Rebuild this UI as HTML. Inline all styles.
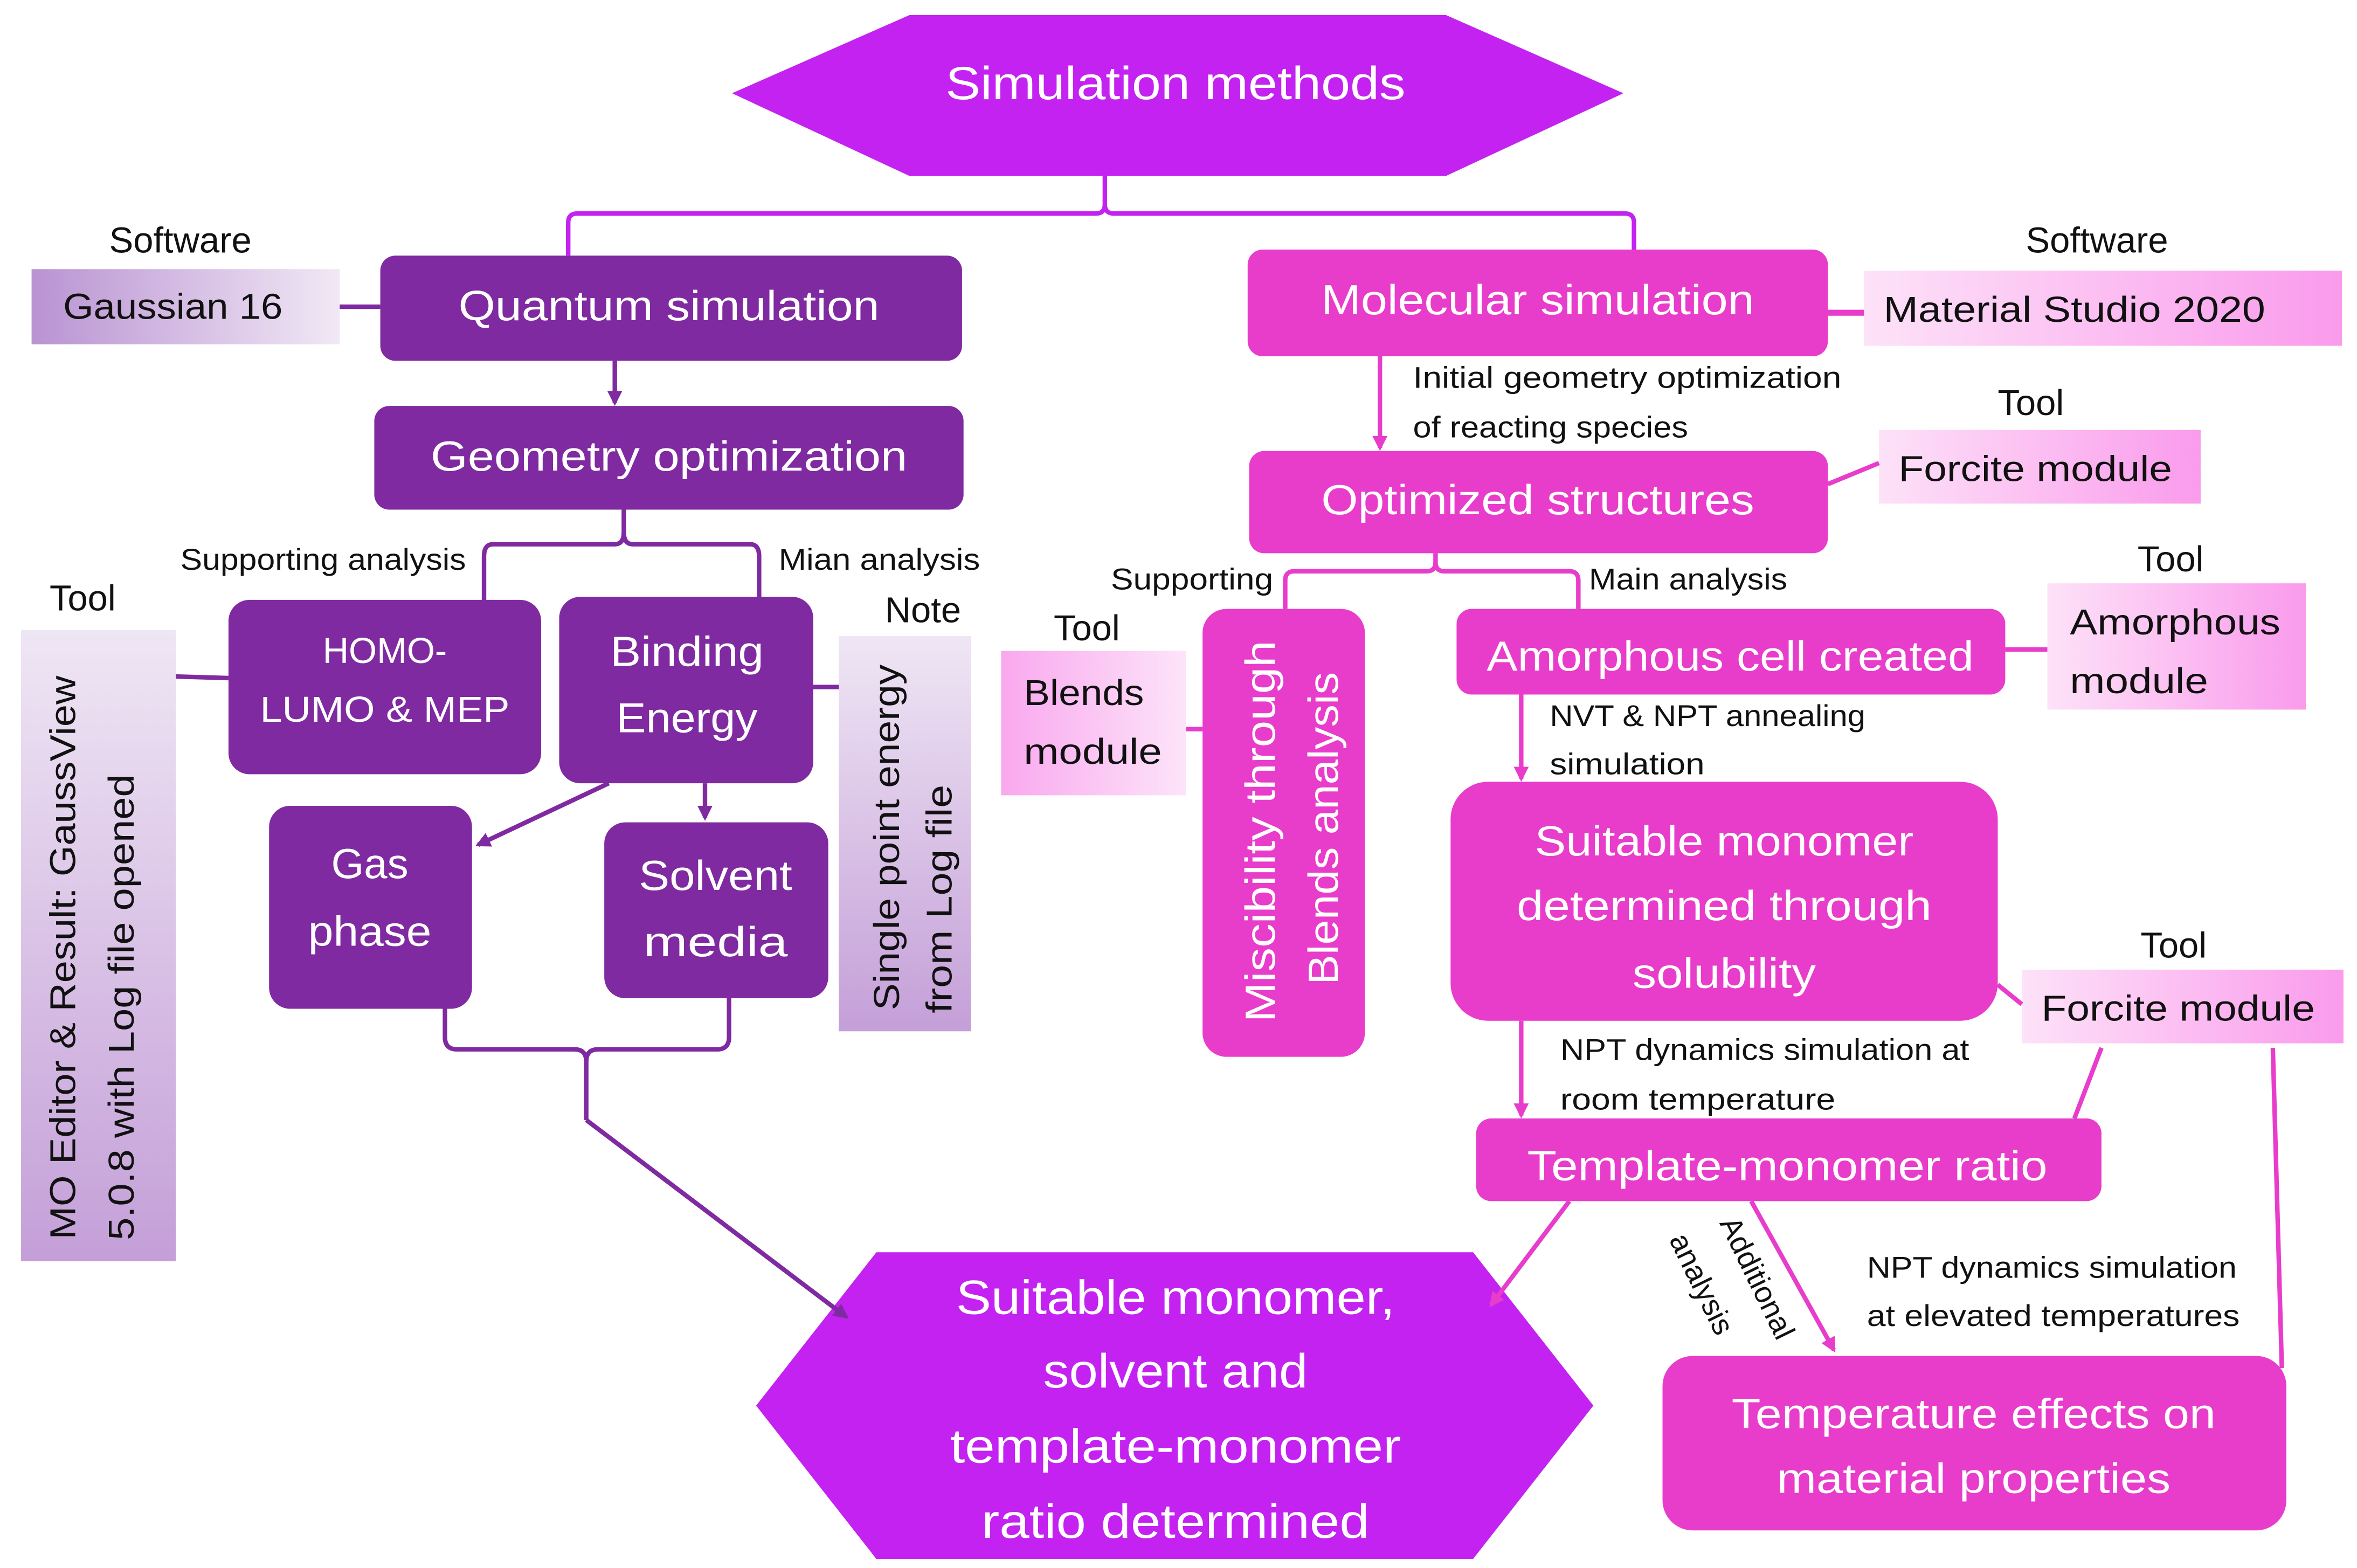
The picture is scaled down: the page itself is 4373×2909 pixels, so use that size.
<!DOCTYPE html>
<html><head><meta charset="utf-8"><style>
html,body{margin:0;padding:0;background:#fff;}
svg{display:block;}
text{font-family:"Liberation Sans",sans-serif;}
.w{fill:#fff;}
.k{fill:#111;}
</style></head><body>
<svg width="4373" height="2909" viewBox="0 0 1568 1043" xmlns="http://www.w3.org/2000/svg">
<defs>
<linearGradient id="gq" x1="0" x2="1" y1="0" y2="0"><stop offset="0" stop-color="#B993D2"/><stop offset="1" stop-color="#F1E8F5"/></linearGradient>
<linearGradient id="gv" x1="0" x2="0" y1="0" y2="1"><stop offset="0" stop-color="#EFE6F4"/><stop offset="1" stop-color="#C49FD8"/></linearGradient>
<linearGradient id="gm" x1="0" x2="1" y1="0" y2="0"><stop offset="0" stop-color="#FDE2F8"/><stop offset="1" stop-color="#FA9BEC"/></linearGradient>
<linearGradient id="gb" x1="0" x2="1" y1="0" y2="0"><stop offset="0" stop-color="#F9A8EE"/><stop offset="1" stop-color="#FDE4F9"/></linearGradient>
<marker id="ap" markerWidth="10" markerHeight="10" refX="8" refY="5" orient="auto" markerUnits="userSpaceOnUse"><path d="M0,0 L10,5 L0,10 z" fill="#7F2AA0"/></marker>
<marker id="am" markerWidth="10" markerHeight="10" refX="8" refY="5" orient="auto" markerUnits="userSpaceOnUse"><path d="M0,0 L10,5 L0,10 z" fill="#E83CCB"/></marker>
</defs>

<!-- bottom hexagon (drawn first so arrowheads stay visible) -->
<polygon points="503,935 583,833 980,833 1060,935 980,1037 583,1037" fill="#C322F0"/>
<text x="782" y="874" class="w" font-size="32" text-anchor="middle" textLength="292" lengthAdjust="spacingAndGlyphs">Suitable monomer,</text>
<text x="782" y="923" class="w" font-size="32" text-anchor="middle" textLength="176" lengthAdjust="spacingAndGlyphs">solvent and</text>
<text x="782" y="973" class="w" font-size="32" text-anchor="middle" textLength="300" lengthAdjust="spacingAndGlyphs">template-monomer</text>
<text x="782" y="1023" class="w" font-size="32" text-anchor="middle" textLength="258" lengthAdjust="spacingAndGlyphs">ratio determined</text>

<!-- top hexagon -->
<polygon points="487,62 605,10 962,10 1080,62 962,117 605,117" fill="#C322F0"/>
<text x="782" y="66" class="w" font-size="31" text-anchor="middle" textLength="306" lengthAdjust="spacingAndGlyphs">Simulation methods</text>

<!-- top brace -->
<path d="M735,117 V136 Q735,142 729,142 H384 Q378,142 378,148 V170" fill="none" stroke="#C322F0" stroke-width="3"/>
<path d="M735,136 Q735,142 741,142 H1081 Q1087,142 1087,148 V166" fill="none" stroke="#C322F0" stroke-width="3"/>

<!-- LEFT SIDE -->
<text x="120" y="168" class="k" font-size="24" text-anchor="middle">Software</text>
<rect x="21" y="179" width="205" height="50" fill="url(#gq)"/>
<text x="115" y="212" class="k" font-size="24" text-anchor="middle" textLength="146" lengthAdjust="spacingAndGlyphs">Gaussian 16</text>
<line x1="226" y1="204" x2="253" y2="204" stroke="#7F2AA0" stroke-width="3"/>

<rect x="253" y="170" width="387" height="70" rx="10" fill="#7F2AA0"/>
<text x="445" y="213" class="w" font-size="28" text-anchor="middle" textLength="280" lengthAdjust="spacingAndGlyphs">Quantum simulation</text>
<line x1="409" y1="240" x2="409" y2="268" stroke="#7F2AA0" stroke-width="3" marker-end="url(#ap)"/>

<rect x="249" y="270" width="392" height="69" rx="10" fill="#7F2AA0"/>
<text x="445" y="313" class="w" font-size="28" text-anchor="middle" textLength="317" lengthAdjust="spacingAndGlyphs">Geometry optimization</text>

<path d="M415,339 V354 Q415,362 409,362 H328 Q322,362 322,370 V400" fill="none" stroke="#7F2AA0" stroke-width="3"/>
<path d="M415,354 Q415,362 421,362 H499 Q505,362 505,370 V398" fill="none" stroke="#7F2AA0" stroke-width="3"/>
<text x="215" y="379" class="k" font-size="20" text-anchor="middle" textLength="190" lengthAdjust="spacingAndGlyphs">Supporting analysis</text>
<text x="585" y="379" class="k" font-size="20" text-anchor="middle" textLength="134" lengthAdjust="spacingAndGlyphs">Mian analysis</text>

<rect x="152" y="399" width="208" height="116" rx="14" fill="#7F2AA0"/>
<text x="256" y="441" class="w" font-size="24" text-anchor="middle">HOMO-</text>
<text x="256" y="480" class="w" font-size="24" text-anchor="middle" textLength="166" lengthAdjust="spacingAndGlyphs">LUMO &amp; MEP</text>

<rect x="372" y="397" width="169" height="124" rx="14" fill="#7F2AA0"/>
<text x="457" y="443" class="w" font-size="28" text-anchor="middle" textLength="102" lengthAdjust="spacingAndGlyphs">Binding</text>
<text x="457" y="487" class="w" font-size="28" text-anchor="middle" textLength="94" lengthAdjust="spacingAndGlyphs">Energy</text>

<text x="55" y="406" class="k" font-size="24" text-anchor="middle">Tool</text>
<rect x="14" y="419" width="103" height="420" fill="url(#gv)"/>
<text transform="translate(50,637) rotate(-90)" class="k" font-size="24" text-anchor="middle" textLength="375" lengthAdjust="spacingAndGlyphs">MO Editor &amp; Result:  GaussView</text>
<text transform="translate(89,670) rotate(-90)" class="k" font-size="24" text-anchor="middle" textLength="310" lengthAdjust="spacingAndGlyphs">5.0.8 with Log file opened</text>
<line x1="117" y1="450" x2="152" y2="451" stroke="#7F2AA0" stroke-width="3"/>

<text x="614" y="414" class="k" font-size="24" text-anchor="middle">Note</text>
<rect x="558" y="423" width="88" height="263" fill="url(#gv)"/>
<text transform="translate(598,557) rotate(-90)" class="k" font-size="24" text-anchor="middle" textLength="230" lengthAdjust="spacingAndGlyphs">Single point energy</text>
<text transform="translate(633,598) rotate(-90)" class="k" font-size="24" text-anchor="middle" textLength="152" lengthAdjust="spacingAndGlyphs">from Log file</text>
<line x1="541" y1="457" x2="558" y2="457" stroke="#7F2AA0" stroke-width="3"/>

<line x1="405" y1="521" x2="318" y2="562" stroke="#7F2AA0" stroke-width="3" marker-end="url(#ap)"/>
<line x1="469" y1="521" x2="469" y2="544" stroke="#7F2AA0" stroke-width="3" marker-end="url(#ap)"/>

<rect x="179" y="536" width="135" height="135" rx="14" fill="#7F2AA0"/>
<text x="246" y="584" class="w" font-size="28" text-anchor="middle">Gas</text>
<text x="246" y="629" class="w" font-size="28" text-anchor="middle" textLength="82" lengthAdjust="spacingAndGlyphs">phase</text>

<rect x="402" y="547" width="149" height="117" rx="14" fill="#7F2AA0"/>
<text x="476" y="592" class="w" font-size="28" text-anchor="middle" textLength="102" lengthAdjust="spacingAndGlyphs">Solvent</text>
<text x="476" y="636" class="w" font-size="28" text-anchor="middle" textLength="96" lengthAdjust="spacingAndGlyphs">media</text>

<path d="M296,671 V690 Q296,698 304,698 H382 Q390,698 390,706 V745" fill="none" stroke="#7F2AA0" stroke-width="3"/>
<path d="M485,664 V690 Q485,698 477,698 H398 Q390,698 390,706" fill="none" stroke="#7F2AA0" stroke-width="3"/>
<line x1="390" y1="745" x2="563" y2="876" stroke="#7F2AA0" stroke-width="3" marker-end="url(#ap)"/>

<!-- RIGHT SIDE -->
<rect x="830" y="166" width="386" height="71" rx="10" fill="#E83CCB"/>
<text x="1023" y="209" class="w" font-size="28" text-anchor="middle" textLength="288" lengthAdjust="spacingAndGlyphs">Molecular simulation</text>

<text x="1395" y="168" class="k" font-size="24" text-anchor="middle">Software</text>
<rect x="1240" y="180" width="318" height="50" fill="url(#gm)"/>
<text x="1380" y="214" class="k" font-size="24" text-anchor="middle" textLength="254" lengthAdjust="spacingAndGlyphs">Material Studio 2020</text>
<line x1="1216" y1="208" x2="1240" y2="208" stroke="#E83CCB" stroke-width="4"/>

<line x1="918" y1="237" x2="918" y2="298" stroke="#E83CCB" stroke-width="3" marker-end="url(#am)"/>
<text x="940" y="258" class="k" font-size="20" textLength="285" lengthAdjust="spacingAndGlyphs">Initial geometry optimization</text>
<text x="940" y="291" class="k" font-size="20" textLength="183" lengthAdjust="spacingAndGlyphs">of reacting species</text>

<rect x="831" y="300" width="385" height="68" rx="10" fill="#E83CCB"/>
<text x="1023" y="342" class="w" font-size="28" text-anchor="middle" textLength="288" lengthAdjust="spacingAndGlyphs">Optimized structures</text>

<text x="1351" y="276" class="k" font-size="24" text-anchor="middle">Tool</text>
<rect x="1250" y="286" width="214" height="49" fill="url(#gm)"/>
<text x="1354" y="320" class="k" font-size="24" text-anchor="middle" textLength="182" lengthAdjust="spacingAndGlyphs">Forcite module</text>
<line x1="1216" y1="322" x2="1250" y2="308" stroke="#E83CCB" stroke-width="3"/>

<path d="M955,368 V374 Q955,380 949,380 H861 Q855,380 855,386 V405" fill="none" stroke="#E83CCB" stroke-width="3"/>
<path d="M955,374 Q955,380 961,380 H1044 Q1050,380 1050,386 V405" fill="none" stroke="#E83CCB" stroke-width="3"/>
<text x="793" y="392" class="k" font-size="20" text-anchor="middle" textLength="108" lengthAdjust="spacingAndGlyphs">Supporting</text>
<text x="1123" y="392" class="k" font-size="20" text-anchor="middle" textLength="132" lengthAdjust="spacingAndGlyphs">Main analysis</text>

<rect x="800" y="405" width="108" height="298" rx="16" fill="#E83CCB"/>
<text transform="translate(848,553) rotate(-90)" class="w" font-size="28" text-anchor="middle" textLength="254" lengthAdjust="spacingAndGlyphs">Miscibility through</text>
<text transform="translate(890,551) rotate(-90)" class="w" font-size="28" text-anchor="middle" textLength="208" lengthAdjust="spacingAndGlyphs">Blends analysis</text>

<text x="723" y="426" class="k" font-size="24" text-anchor="middle">Tool</text>
<rect x="666" y="433" width="123" height="96" fill="url(#gb)"/>
<text x="681" y="469" class="k" font-size="24" textLength="80" lengthAdjust="spacingAndGlyphs">Blends</text>
<text x="681" y="508" class="k" font-size="24" textLength="92" lengthAdjust="spacingAndGlyphs">module</text>
<line x1="789" y1="485" x2="800" y2="485" stroke="#E83CCB" stroke-width="3"/>

<rect x="969" y="405" width="365" height="57" rx="10" fill="#E83CCB"/>
<text x="1151" y="446" class="w" font-size="28" text-anchor="middle" textLength="324" lengthAdjust="spacingAndGlyphs">Amorphous cell created</text>

<text x="1444" y="380" class="k" font-size="24" text-anchor="middle">Tool</text>
<rect x="1362" y="388" width="172" height="84" fill="url(#gm)"/>
<text x="1377" y="422" class="k" font-size="24" textLength="140" lengthAdjust="spacingAndGlyphs">Amorphous</text>
<text x="1377" y="461" class="k" font-size="24" textLength="92" lengthAdjust="spacingAndGlyphs">module</text>
<line x1="1334" y1="432" x2="1362" y2="432" stroke="#E83CCB" stroke-width="3"/>

<line x1="1012" y1="462" x2="1012" y2="518" stroke="#E83CCB" stroke-width="3" marker-end="url(#am)"/>
<text x="1031" y="483" class="k" font-size="20" textLength="210" lengthAdjust="spacingAndGlyphs">NVT &amp; NPT annealing</text>
<text x="1031" y="515" class="k" font-size="20" textLength="103" lengthAdjust="spacingAndGlyphs">simulation</text>

<rect x="965" y="520" width="364" height="159" rx="25" fill="#E83CCB"/>
<text x="1147" y="569" class="w" font-size="28" text-anchor="middle" textLength="252" lengthAdjust="spacingAndGlyphs">Suitable monomer</text>
<text x="1147" y="612" class="w" font-size="28" text-anchor="middle" textLength="276" lengthAdjust="spacingAndGlyphs">determined through</text>
<text x="1147" y="657" class="w" font-size="28" text-anchor="middle" textLength="122" lengthAdjust="spacingAndGlyphs">solubility</text>

<text x="1446" y="637" class="k" font-size="24" text-anchor="middle">Tool</text>
<rect x="1345" y="645" width="214" height="49" fill="url(#gm)"/>
<text x="1449" y="679" class="k" font-size="24" text-anchor="middle" textLength="182" lengthAdjust="spacingAndGlyphs">Forcite module</text>
<line x1="1329" y1="655" x2="1345" y2="668" stroke="#E83CCB" stroke-width="3"/>

<line x1="1012" y1="679" x2="1012" y2="742" stroke="#E83CCB" stroke-width="3" marker-end="url(#am)"/>
<text x="1038" y="705" class="k" font-size="20" textLength="272" lengthAdjust="spacingAndGlyphs">NPT dynamics simulation at</text>
<text x="1038" y="738" class="k" font-size="20" textLength="183" lengthAdjust="spacingAndGlyphs">room temperature</text>

<rect x="982" y="744" width="416" height="55" rx="10" fill="#E83CCB"/>
<text x="1189" y="785" class="w" font-size="28" text-anchor="middle" textLength="346" lengthAdjust="spacingAndGlyphs">Template-monomer ratio</text>

<line x1="1398" y1="697" x2="1380" y2="744" stroke="#E83CCB" stroke-width="3"/>
<line x1="1512" y1="697" x2="1518" y2="910" stroke="#E83CCB" stroke-width="3"/>

<line x1="1044" y1="799" x2="992" y2="868" stroke="#E83CCB" stroke-width="3" marker-end="url(#am)"/>
<line x1="1165" y1="799" x2="1220" y2="898" stroke="#E83CCB" stroke-width="3" marker-end="url(#am)"/>
<text transform="translate(1163,853) rotate(64)" class="k" font-size="20" text-anchor="middle">Additional</text>
<text transform="translate(1126,857) rotate(64)" class="k" font-size="20" text-anchor="middle">analysis</text>
<text x="1242" y="850" class="k" font-size="20" textLength="246" lengthAdjust="spacingAndGlyphs">NPT dynamics simulation</text>
<text x="1242" y="882" class="k" font-size="20" textLength="248" lengthAdjust="spacingAndGlyphs">at elevated temperatures</text>

<rect x="1106" y="902" width="415" height="116" rx="20" fill="#E83CCB"/>
<text x="1313" y="950" class="w" font-size="28" text-anchor="middle" textLength="322" lengthAdjust="spacingAndGlyphs">Temperature effects on</text>
<text x="1313" y="993" class="w" font-size="28" text-anchor="middle" textLength="262" lengthAdjust="spacingAndGlyphs">material properties</text>
</svg>
</body></html>
